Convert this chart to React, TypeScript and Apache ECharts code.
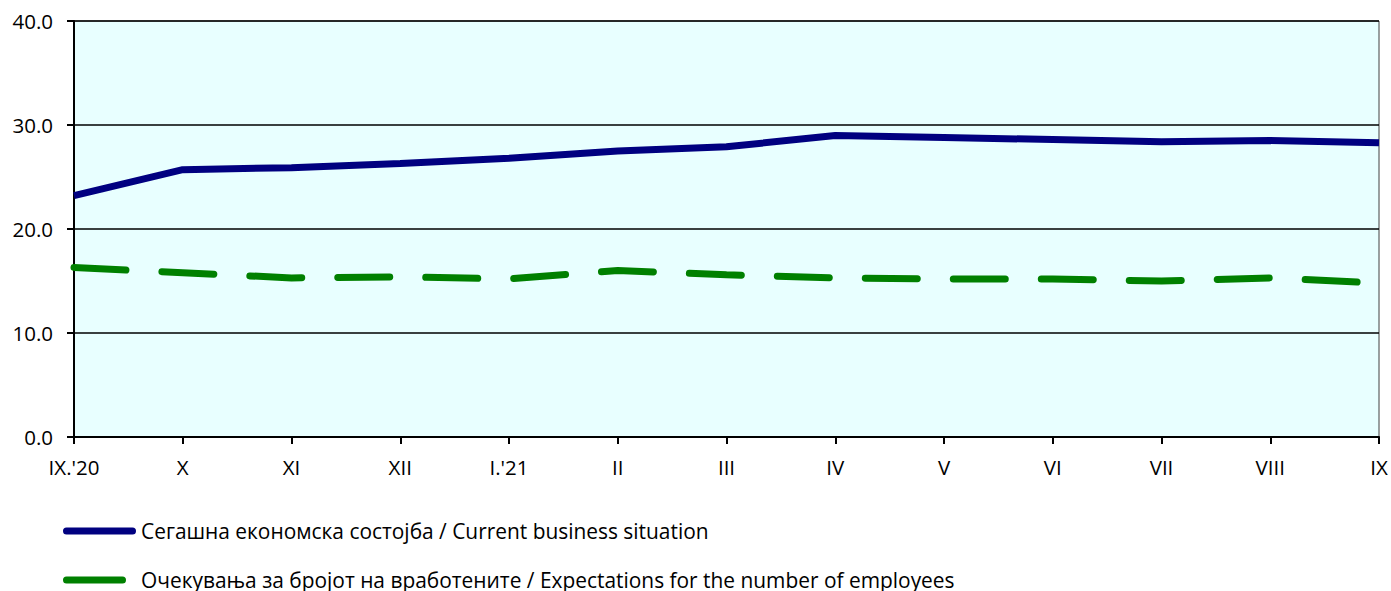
import React, { useEffect, useRef } from "react";
import * as echarts from "echarts";

const categories = ["IX.'20", "X", "XI", "XII", "I.'21", "II", "III", "IV", "V", "VI", "VII", "VIII", "IX"];
const currentSituation = [23.2, 25.7, 25.9, 26.3, 26.8, 27.5, 27.9, 29.0, 28.8, 28.6, 28.4, 28.5, 28.3];
const employmentExpectations = [16.3, 15.8, 15.3, 15.4, 15.2, 16.0, 15.6, 15.3, 15.2, 15.2, 15.0, 15.3, 14.8];
const seriesNames = [
  "Сегашна економска состојба / Current business situation",
  "Очекувања за бројот на вработените / Expectations for the number of employees",
];
const seriesColors = ["#000080", "#008000"];
const yTicks = { min: 0, max: 40, interval: 10 };

const FONT = "'Open Sans', 'Noto Sans', sans-serif";
const FS = 20.5;

export default function App() {
  const ref = useRef<HTMLDivElement>(null);
  useEffect(() => {
    if (!ref.current) return;
    const chart = echarts.init(ref.current, undefined, { renderer: "svg" });
    const legendRows = [
      { y: 531, w: 73 },
      { y: 580, w: 63 },
    ];
    const legendGraphics: any[] = [];
    legendRows.forEach((row, i) => {
      legendGraphics.push({
        type: "rect",
        left: 63,
        top: row.y - 3.5,
        shape: { width: row.w, height: 7, r: 3.5 },
        style: { fill: seriesColors[i] },
      });
      legendGraphics.push({
        type: "text",
        x: 141,
        y: row.y,
        style: {
          text: seriesNames[i],
          fill: "#000",
          font: `20.9px ${FONT}`,
          verticalAlign: "middle",
          align: "left",
        },
      });
    });
    chart.setOption({
      animation: false,
      textStyle: { fontFamily: FONT },
      grid: {
        left: 74,
        right: 12,
        top: 21,
        bottom: 154,
        show: true,
        backgroundColor: "#E8FFFF",
        borderColor: "#404040",
        borderWidth: 1,
      },
      graphic: legendGraphics,
      xAxis: {
        type: "category",
        data: categories,
        boundaryGap: false,
        axisLine: { lineStyle: { color: "#000", width: 2 } },
        axisTick: { show: true, length: 7, lineStyle: { color: "#000", width: 2 } },
        axisLabel: { color: "#000", fontSize: FS, margin: 19, fontFamily: FONT },
      },
      yAxis: {
        type: "value",
        min: yTicks.min,
        max: yTicks.max,
        interval: yTicks.interval,
        axisLine: { show: true, lineStyle: { color: "#000", width: 2 } },
        axisTick: { show: true, length: 7, lineStyle: { color: "#000", width: 2 } },
        axisLabel: {
          color: "#000",
          fontSize: FS,
          margin: 21,
          fontFamily: FONT,
          formatter: (v: number) => v.toFixed(1),
        },
        splitLine: { show: true, lineStyle: { color: "#000", width: 1.5 } },
      },
      series: [
        {
          name: seriesNames[0],
          type: "line",
          data: currentSituation,
          symbol: "none",
          color: seriesColors[0],
          lineStyle: { color: seriesColors[0], width: 7 },
        },
        {
          name: seriesNames[1],
          type: "line",
          data: employmentExpectations,
          symbol: "none",
          color: seriesColors[1],
          lineStyle: { color: seriesColors[1], width: 7, type: [52, 36], cap: "round" },
        },
      ],
    });
    return () => chart.dispose();
  }, []);
  return (
    <div
      ref={ref}
      style={{ position: "fixed", left: 0, top: 0, width: 1391, height: 591, background: "#fff" }}
    />
  );
}
